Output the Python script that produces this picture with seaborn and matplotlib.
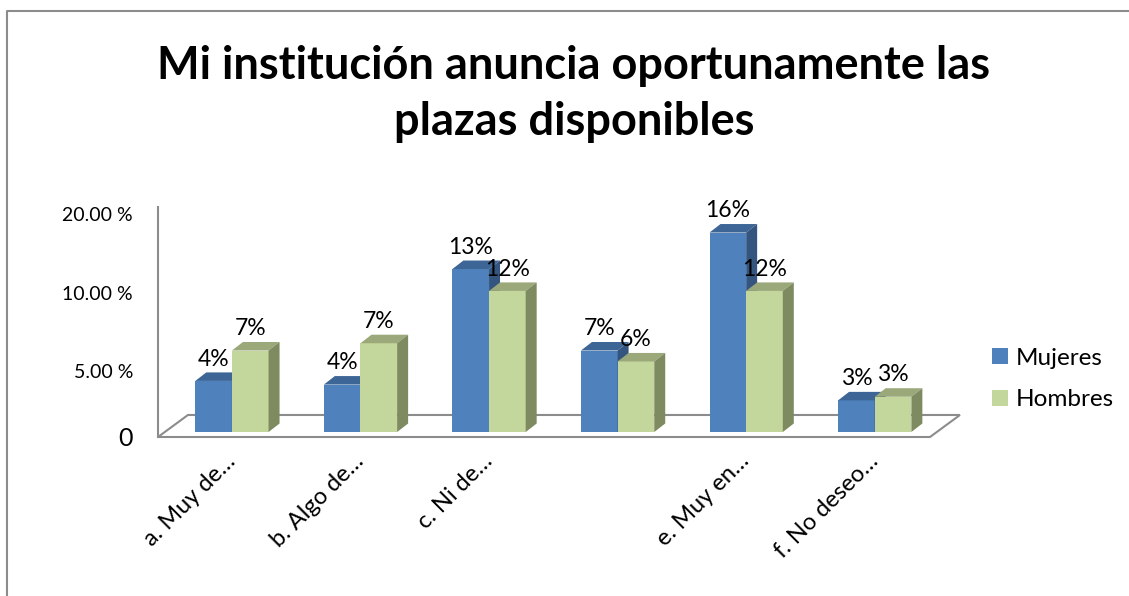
#!/usr/bin/env python3
"""
Gráfico de barras "3D" (estilo Excel): Mi institución anuncia oportunamente
las plazas disponibles, por sexo.
"""

import numpy as np
import pandas as pd
import matplotlib
matplotlib.use('Agg')
import matplotlib.pyplot as plt
import seaborn as sns
from matplotlib.patches import Polygon, Patch
from matplotlib.lines import Line2D

# Datos (porcentajes)
categorias = ["a. Muy de…", "b. Algo de…", "c. Ni de…", " ", "e. Muy en…", "f. No deseo…"]
mujeres = [4.2, 3.9, 13.4, 6.7, 16.4, 2.6]
hombres = [6.7, 7.3, 11.6, 5.8, 11.6, 2.9]
etiquetas_mujeres = ["4%", "4%", "13%", "7%", "16%", "3%"]
etiquetas_hombres = ["7%", "7%", "12%", "6%", "12%", "3%"]
series = ["Mujeres", "Hombres"]

# Ticks del eje de valores (tal como aparecen en la pared del gráfico)
ytick_pos = [-0.41, 5.0, 11.4, 17.9]
ytick_txt = ["0", "5.00 %", "10.00 %", "20.00 %"]

titulo = "Mi institución anuncia oportunamente las\nplazas disponibles"

# Colores estilo Office 2007: frente, tapa, lateral
colores = {
    "Mujeres": ("#4F81BD", "#3D6595", "#34557F"),
    "Hombres": ("#C3D69B", "#9AA87A", "#7E8A60"),
}

df = pd.DataFrame({
    'categoria': categorias * 2,
    'sexo': ["Mujeres"] * len(categorias) + ["Hombres"] * len(categorias),
    'valor': mujeres + hombres,
})

sns.set_style('white')
plt.rcParams['font.family'] = ['Lato', 'DejaVu Sans']
plt.rcParams['text.color'] = 'black'
plt.rcParams['xtick.color'] = 'black'
plt.rcParams['ytick.color'] = 'black'

fig = plt.figure(figsize=(11.29, 5.96), dpi=100)
ax = fig.add_axes([158 / 1129, 1 - 437 / 596, (930 - 158) / 1129, (437 - 207) / 596])

sns.barplot(data=df, x='categoria', y='valor', hue='sexo', order=categorias,
            hue_order=series, palette=[colores[s][0] for s in series],
            saturation=1, width=0.57, linewidth=0, legend=False, ax=ax)

ax.set_xlim(-0.575, 5.43)
ax.set_ylim(-0.41, 18.5)

# Profundidad 3D en unidades de datos
dx, dy = 0.0855, 0.70
for i, (cont, s) in enumerate(zip(ax.containers, series)):
    frente, tapa, lado = colores[s]
    etiquetas = etiquetas_mujeres if s == "Mujeres" else etiquetas_hombres
    for barra, txt in zip(cont, etiquetas):
        barra.set_zorder(2 + i)
        x, w, h = barra.get_x(), barra.get_width(), barra.get_height()
        ax.add_patch(Polygon([(x, h), (x + w, h), (x + w + dx, h + dy), (x + dx, h + dy)],
                             closed=True, facecolor=tapa, edgecolor='none',
                             zorder=2.5 + i, clip_on=False))
        ax.add_patch(Polygon([(x + w, 0), (x + w, h), (x + w + dx, h + dy), (x + w + dx, dy)],
                             closed=True, facecolor=lado, edgecolor='none',
                             zorder=2.5 + i, clip_on=False))
        ax.annotate(txt, (x + w / 2, h + dy), xytext=(0, 2), textcoords='offset points',
                    ha='center', va='bottom', fontsize=16.5, color='black',
                    zorder=5, annotation_clip=False)

# Piso del gráfico
x0, x1 = ax.get_xlim()
y0 = ax.get_ylim()[0]
fdx, fdy = 0.233, 1.81
ax.add_patch(Polygon([(x0, y0), (x1, y0), (x1 + fdx, y0 + fdy), (x0 + fdx, y0 + fdy)],
                     closed=True, facecolor='white', edgecolor='#8C8C8C',
                     linewidth=1.5, zorder=0.5, clip_on=False))

# Ejes
for lado_ in ['top', 'right', 'bottom']:
    ax.spines[lado_].set_visible(False)
ax.spines['left'].set_color('#8C8C8C')
ax.spines['left'].set_linewidth(1.5)
ax.set_xlabel('')
ax.set_ylabel('')
ax.set_yticks(ytick_pos)
ax.set_yticklabels(ytick_txt, fontsize=14)
ax.get_yticklabels()[0].set_fontsize(18)
ax.tick_params(axis='y', length=0, pad=18)
ax.tick_params(axis='x', length=0, pad=15)
ax.set_xticks(range(len(categorias)))
ax.set_xticklabels(categorias, rotation=45, ha='right', rotation_mode='anchor',
                   va='center', fontsize=17)

# Leyenda
handles = [Patch(facecolor=colores[s][0], edgecolor='none', label=s) for s in series]
fig.legend(handles=handles, loc='center left', bbox_to_anchor=(992 / 1129, 1 - 379 / 596),
           frameon=False, fontsize=17.5, handlelength=0.64, handleheight=0.64,
           handletextpad=0.35, labelspacing=0.85, borderpad=0, borderaxespad=0)

# Título
fig.text(574 / 1129, 1 - 94 / 596, titulo, ha='center', va='center',
         fontsize=32.5, fontweight='bold', linespacing=1.4)

# Marco (sólo borde superior e izquierdo visibles)
fig.add_artist(Line2D([7 / 1129, 7 / 1129, 1.0], [0.0, 1 - 11 / 596, 1 - 11 / 596],
                      color='#8C8C8C', linewidth=1.5))

fig.savefig('out.png', dpi=100)
print("Gráfico guardado: out.png")
